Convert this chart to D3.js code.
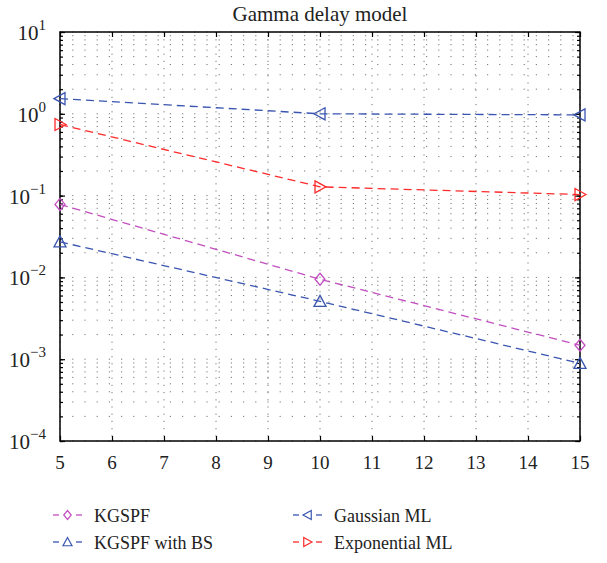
<!DOCTYPE html>
<html>
<head>
<meta charset="utf-8">
<script src="https://cdn.jsdelivr.net/npm/d3@7"></script>
<style>
  body { margin: 0; background: #fff; }
  svg text { font-family: "Liberation Serif", "DejaVu Serif", serif !important; fill: #222; }
</style>
</head>
<body>
<div class="chart"></div>
<script>
// Gamma delay model - log scale comparison
var xValues = [5, 10, 15];
var kgspf = [0.078, 0.0095, 0.00148];
var kgspfBS = [0.0272, 0.0051, 0.00089];
var gaussianML = [1.53, 1.0, 0.97];
var exponentialML = [0.74, 0.128, 0.103];
var xTicks = [5, 6, 7, 8, 9, 10, 11, 12, 13, 14, 15];
var yDecades = [-4, -3, -2, -1, 0, 1];

var svgWidth = 607;
var svgHeight = 563;
var margin = { top: 32, right: 27, bottom: 122, left: 60 };
var width = svgWidth - margin.left - margin.right;
var height = svgHeight - margin.top - margin.bottom;
var serif = "Liberation Serif, DejaVu Serif, serif";

var svg = d3.select(".chart")
    .append("svg")
    .attr("width", svgWidth)
    .attr("height", svgHeight)
    .attr("font-family", serif);

var chart = svg.append("g")
    .attr("transform", "translate(" + margin.left + "," + margin.top + ")");

var xScale = d3.scaleLinear().domain([5, 15]).range([0, width]);
var yScale = d3.scaleLog().domain([1e-4, 10]).range([height, 0]);

// minor log positions
var minorY = [];
for (var k = -4; k < 1; k++) {
    for (var m = 1; m <= 9; m++) {
        minorY.push(m * Math.pow(10, k));
    }
}
minorY.push(10);

// dotted grid
chart.selectAll(".hgrid")
    .data(minorY)
    .enter()
    .append("line")
    .attr("x1", 0)
    .attr("x2", width)
    .attr("y1", function(d) { return yScale(d); })
    .attr("y2", function(d) { return yScale(d); })
    .attr("stroke", "#777")
    .attr("stroke-width", 1)
    .attr("stroke-dasharray", "1.2,11");

chart.selectAll(".vgrid")
    .data(xTicks)
    .enter()
    .append("line")
    .attr("x1", function(d) { return xScale(d); })
    .attr("x2", function(d) { return xScale(d); })
    .attr("y1", 0)
    .attr("y2", height)
    .attr("stroke", "#777")
    .attr("stroke-width", 1)
    .attr("stroke-dasharray", "1.2,6");

// inward ticks on all sides
var bottomAxis = d3.axisBottom(xScale).tickValues(xTicks).tickSize(-5).tickFormat("");
var topAxis = d3.axisTop(xScale).tickValues(xTicks).tickSize(-5).tickFormat("");
chart.append("g").attr("transform", "translate(0," + height + ")").call(bottomAxis);
chart.append("g").call(topAxis);

var majorY = yDecades.map(function(e) { return Math.pow(10, e); });
var leftMinor = d3.axisLeft(yScale).tickValues(minorY).tickSize(-3).tickFormat("");
var rightMinor = d3.axisRight(yScale).tickValues(minorY).tickSize(-3).tickFormat("");
var leftMajor = d3.axisLeft(yScale).tickValues(majorY).tickSize(-5).tickFormat("");
var rightMajor = d3.axisRight(yScale).tickValues(majorY).tickSize(-5).tickFormat("");
chart.append("g").call(leftMinor);
chart.append("g").call(leftMajor);
chart.append("g").attr("transform", "translate(" + width + ",0)").call(rightMinor);
chart.append("g").attr("transform", "translate(" + width + ",0)").call(rightMajor);

chart.selectAll(".domain").remove();
chart.selectAll(".tick line").attr("stroke", "#000").attr("stroke-width", 1.2);

chart.append("rect")
    .attr("width", width)
    .attr("height", height)
    .attr("fill", "none")
    .attr("stroke", "#000")
    .attr("stroke-width", 1.5);

// tick labels
chart.selectAll(".xlabel")
    .data(xTicks)
    .enter()
    .append("text")
    .attr("x", function(d) { return xScale(d); })
    .attr("y", height + 28)
    .attr("text-anchor", "middle")
    .attr("font-family", serif)
    .style("font-size", "19px")
    .text(function(d) { return d; });

var yLab = chart.selectAll(".ylabel")
    .data(yDecades)
    .enter()
    .append("text")
    .attr("x", -14)
    .attr("y", function(d) { return yScale(Math.pow(10, d)) + 8; })
    .attr("text-anchor", "end")
    .attr("font-family", serif)
    .style("font-size", "21px");
yLab.append("tspan").text("10");
yLab.append("tspan")
    .attr("dy", -10)
    .style("font-size", "15px")
    .text(function(d) { return d < 0 ? "\u2212" + (-d) : d; });

// title
chart.append("text")
    .attr("x", width / 2)
    .attr("y", -11)
    .attr("text-anchor", "middle")
    .attr("font-family", serif)
    .style("font-size", "21px")
    .text("Gamma delay model");

// series
var series = [
    { name: "KGSPF", values: kgspf, color: "#c24fc0", marker: "diamond" },
    { name: "KGSPF with BS", values: kgspfBS, color: "#3a55b0", marker: "up" },
    { name: "Gaussian ML", values: gaussianML, color: "#3a55b0", marker: "left" },
    { name: "Exponential ML", values: exponentialML, color: "#ff2a2a", marker: "right" }
];

function markerPath(type) {
    var s = 5;
    if (type === "diamond") return "M0," + (-s - 1) + "L" + s + ",0L0," + (s + 1) + "L" + (-s) + ",0Z";
    if (type === "up") return "M0," + (-s - 1) + "L" + (s + 1) + "," + s + "L" + (-s - 1) + "," + s + "Z";
    if (type === "left") return "M" + (-s - 1) + ",0L" + s + "," + (-s - 1) + "L" + s + "," + (s + 1) + "Z";
    return "M" + (s + 1) + ",0L" + (-s) + "," + (-s - 1) + "L" + (-s) + "," + (s + 1) + "Z";
}

var line = d3.line()
    .x(function(d, i) { return xScale(xValues[i]); })
    .y(function(d) { return yScale(d); });

series.forEach(function(s) {
    chart.append("path")
        .datum(s.values)
        .attr("d", line)
        .attr("fill", "none")
        .attr("stroke", s.color)
        .attr("stroke-width", 1.3)
        .attr("stroke-dasharray", "8,5");

    chart.selectAll(".m-" + s.marker)
        .data(s.values)
        .enter()
        .append("path")
        .attr("transform", function(d, i) {
            return "translate(" + xScale(xValues[i]) + "," + yScale(d) + ")";
        })
        .attr("d", markerPath(s.marker))
        .attr("fill", "none")
        .attr("stroke", s.color)
        .attr("stroke-width", 1.3);
});

// legend
var legendPos = [
    { x: 53, y: 515 },
    { x: 53, y: 542 },
    { x: 293, y: 515 },
    { x: 293, y: 542 }
];
series.forEach(function(s, i) {
    var g = svg.append("g").attr("transform", "translate(" + legendPos[i].x + "," + legendPos[i].y + ")");
    g.append("line").attr("x1", 0).attr("x2", 6).attr("stroke", s.color).attr("stroke-width", 1.3);
    g.append("line").attr("x1", 23).attr("x2", 29).attr("stroke", s.color).attr("stroke-width", 1.3);
    g.append("path")
        .attr("transform", "translate(14.5,0) scale(0.75)")
        .attr("d", markerPath(s.marker))
        .attr("fill", "none")
        .attr("stroke", s.color)
        .attr("stroke-width", 1.6);
    g.append("text")
        .attr("x", 41)
        .attr("y", 7)
        .attr("font-family", serif)
        .style("font-size", "18px")
        .text(s.name);
});
</script>
</body>
</html>
